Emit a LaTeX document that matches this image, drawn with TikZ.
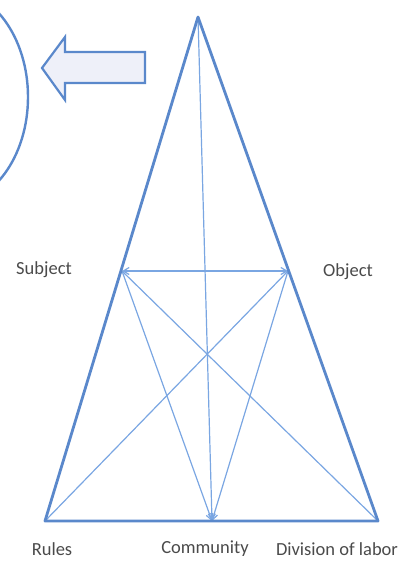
\documentclass[tikz,border=0pt]{standalone}
\usepackage{fontspec}
\setmainfont{Carlito}
\usetikzlibrary{arrows.meta}
\definecolor{edgeblue}{HTML}{5A88CB}
\definecolor{lineblue}{HTML}{7AA6E2}
\definecolor{pale}{HTML}{EEF0F9}
\definecolor{labelgray}{HTML}{4A4A4A}
\tikzset{label text/.style = {text=labelgray, font=\fontsize{18.5}{22}\selectfont, inner sep=0pt},
  inner line/.style = {draw=lineblue, line width=1.2pt},
  tip/.style = {-{Straight Barb[length=6pt,width=7pt]}}}

\begin{document}
\begin{tikzpicture}[x=1pt, y=-1pt]
  \useasboundingbox (0,0) rectangle (407,561);
  \begin{scope}
    \clip (0,0) rectangle (407,561);
    \draw[edgeblue, line width=2.4pt] (-51,97) ellipse [x radius=79, y radius=108];
  \end{scope}
  % block arrow
  \draw[edgeblue, fill=pale, line width=2.2pt, line join=miter]
    (145,52) -- (65,52) -- (65,37) -- (42,68) -- (65,100) -- (65,83) -- (145,83) -- cycle;
  % corners of the triangle
  \coordinate (apex) at (198,17);
  \coordinate (subj) at (122,271);
  \coordinate (obj) at (288,271);
  \coordinate (rules) at (45,521);
  \coordinate (comm) at (212,521);
  \coordinate (div) at (378,521);
  % inner lines
  \draw[inner line, tip] (apex) -- (comm);
  \draw[inner line, tip] (subj) -- (comm);
  \draw[inner line, tip] (obj) -- (comm);
  \draw[inner line] (subj) -- (div);
  \draw[inner line] (obj) -- (rules);
  \draw[inner line, {Straight Barb[length=6pt,width=7pt]}-{Straight Barb[length=6pt,width=7pt]}] (subj) -- (obj);
  % outline
  \draw[edgeblue, line width=2.8pt, line join=round] (apex) -- (rules) -- (div) -- cycle;
  % labels
  \node[label text] (subjlabel) at (44,270) {Subject};
  \node[label text] (objlabel) at (348,272) {Object};
  \node[label text] (ruleslabel) at (52,549) {Rules};
  \node[label text] (commlabel) at (205,549) {Community};
  \node[label text] (divlabel) at (337,549) {Division of labor};
\end{tikzpicture}
\end{document}
